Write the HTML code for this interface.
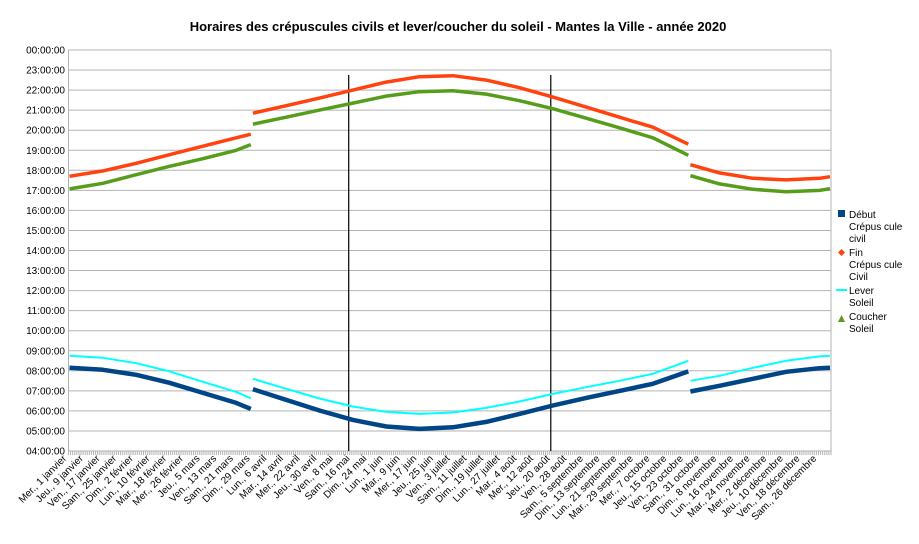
<!DOCTYPE html>
<html><head><meta charset="utf-8"><style>
body{margin:0;background:#fff;}
svg{display:block;font-family:"Liberation Sans",sans-serif;}
</style></head><body>
<svg id="c" width="919" height="544">
<text x="458" y="31" text-anchor="middle" font-size="13" font-weight="bold">Horaires des crépuscules civils et lever/coucher du soleil - Mantes la Ville - année 2020</text>
<g id="grid"></g><g id="series"></g><g id="axes"></g>
<g font-size="10">
<rect x="838" y="210" width="7" height="7" fill="#004586"/>
<text x="849" y="218"><tspan x="849">Début</tspan><tspan x="849" dy="12">Crépus cule</tspan><tspan x="849" dy="12">civil</tspan></text>
<path d="M841.5 249 l3.5 3.5 -3.5 3.5 -3.5 -3.5z" fill="#ff420e"/>
<text x="849" y="256"><tspan x="849">Fin</tspan><tspan x="849" dy="12">Crépus cule</tspan><tspan x="849" dy="12">Civil</tspan></text>
<line x1="836" y1="290" x2="847" y2="290" stroke="#00ffff" stroke-width="2"/>
<text x="849" y="294"><tspan x="849">Lever</tspan><tspan x="849" dy="12">Soleil</tspan></text>
<path d="M838 322 l3.5 -7 3.5 7z" fill="#579d1c"/>
<text x="849" y="320"><tspan x="849">Coucher</tspan><tspan x="849" dy="12">Soleil</tspan></text>
</g>
</svg>
<script>
const days=[0,16,32,48,64,80,87,88,104,120,136,152,168,184,200,216,232,248,264,280,297,298,312,328,344,360,365];
const dawn=[8.15,8.05,7.8,7.4,6.9,6.4,6.1,7.08,6.55,6.02,5.55,5.22,5.1,5.18,5.45,5.85,6.27,6.65,7.0,7.35,7.97,6.97,7.25,7.6,7.95,8.13,8.15];
const dusk=[17.7,17.97,18.35,18.78,19.2,19.62,19.8,20.85,21.22,21.6,22.0,22.4,22.67,22.72,22.5,22.12,21.65,21.15,20.65,20.15,19.3,18.28,17.87,17.6,17.52,17.6,17.68];
const sunrise=[8.75,8.65,8.38,7.97,7.45,6.95,6.63,7.6,7.1,6.62,6.22,5.95,5.85,5.92,6.15,6.47,6.85,7.18,7.5,7.85,8.5,7.5,7.75,8.15,8.5,8.72,8.75];
const sunset=[17.07,17.35,17.78,18.2,18.58,19.0,19.28,20.3,20.65,21.0,21.35,21.7,21.92,21.97,21.8,21.47,21.07,20.6,20.12,19.62,18.75,17.73,17.32,17.05,16.93,17.0,17.08];
const breakAfter=[87,297];
const markerDays=[134,231];
const yTicks=[4,5,6,7,8,9,10,11,12,13,14,15,16,17,18,19,20,21,22,23,24];
const dayNames=["Dim.","Lun.","Mar.","Mer.","Jeu.","Ven.","Sam."];
const monthNames=["janvier","février","mars","avril","mai","juin","juillet","août","septembre","octobre","novembre","décembre"];
const NS="http://www.w3.org/2000/svg";
const L=68.5,R=831,T=50,B=451;
const x=d=>L+(d+0.5)*(R-L)/366;
const y=h=>B-(h-4)*(B-T)/20;
function mk(tag,attrs,parent){const e=document.createElementNS(NS,tag);for(const k in attrs)e.setAttribute(k,attrs[k]);parent.appendChild(e);return e;}
const grid=document.getElementById('grid'),axes=document.getElementById('axes'),ser=document.getElementById('series');
yTicks.forEach(h=>{
 const l=mk('line',{x1:L,x2:R,y1:y(h),y2:y(h),stroke:'#b3b3b3','stroke-width':1},grid);
 
 
 const t=mk('text',{x:65,y:y(h)+3.5,'text-anchor':'end','font-size':'10'},axes);
 
 
 t.textContent=String(h%24).padStart(2,'0')+':00:00';
});
mk('line',{x1:L,x2:L,y1:T,y2:B,stroke:'#b3b3b3'},axes);
mk('line',{x1:R,x2:R,y1:T,y2:B+4,stroke:'#b3b3b3'},axes);
let tk='';for(let d=0;d<=366;d++){const xx=L+d*(R-L)/366;tk+=`M${xx} ${B} v4 `;}
const tp=mk('path',{d:tk,stroke:'#b3b3b3','stroke-width':1,fill:'none'},axes);


for(let d=0;d<366;d+=8){
 const dt=new Date(2020,0,1+d);
 const lab=dayNames[dt.getDay()]+", "+dt.getDate()+" "+monthNames[dt.getMonth()];
 const xx=x(d)-2.5;
 const t=mk('text',{x:xx,y:B+8,'text-anchor':'end','font-size':'10',transform:`rotate(-45 ${xx} ${B+8})`},axes);
 
 
 t.textContent=lab;
}
markerDays.forEach(d=>{
 const l=mk('line',{x1:x(d),x2:x(d),y1:75,y2:B,stroke:'#000','stroke-width':1.2},ser);
 
 
});
function draw(vals,color,w,name){
 let dstr='';
 days.forEach((d,i)=>{const start=i===0||breakAfter.includes(days[i-1]);dstr+=(start?'M':'L')+x(d).toFixed(1)+' '+y(vals[i]).toFixed(1)+' ';});
 const p=mk('path',{d:dstr,stroke:color,'stroke-width':w,fill:'none','stroke-linejoin':'round'},ser);
 
 
}
draw(sunrise,'#00ffff',2,'series-sunrise');
draw(sunset,'#579d1c',3.5,'series-sunset');
draw(dusk,'#ff420e',3.5,'series-dusk');
draw(dawn,'#004586',4.5,'series-dawn');
</script>
</body></html>
